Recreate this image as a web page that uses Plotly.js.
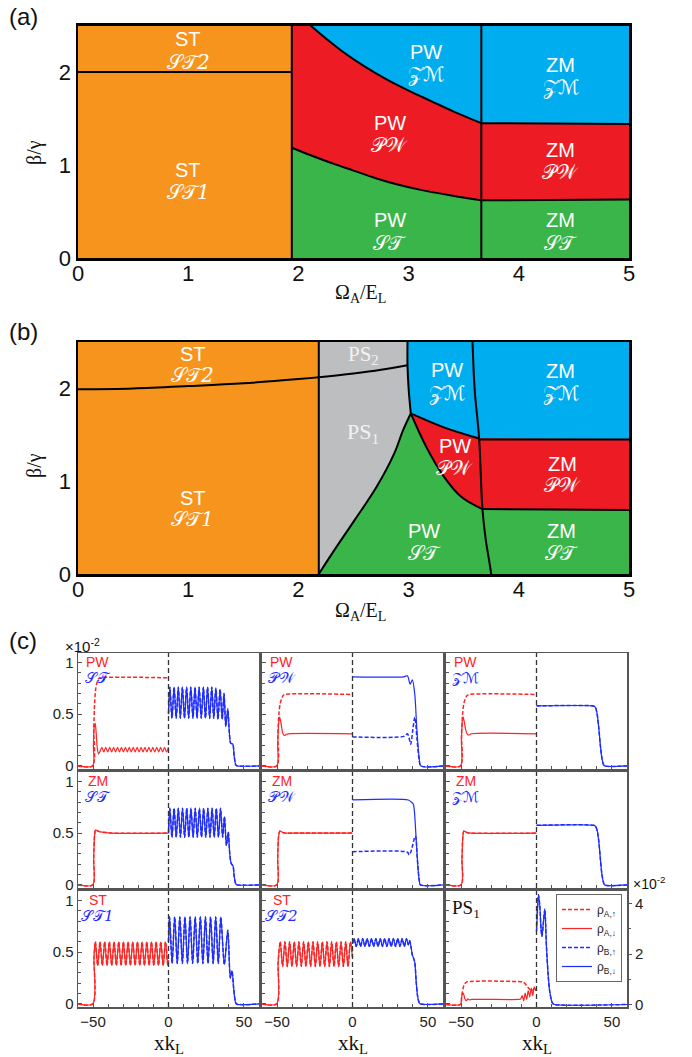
<!DOCTYPE html>
<html><head><meta charset="utf-8">
<script src="https://cdn.plot.ly/plotly-3.0.1.min.js"></script>
<style>html,body{margin:0;padding:0;background:#fff}#g{width:692px;height:1057px}</style>
</head><body><div id="g"></div>
<script>
// ================= DATA =================
// ---- Panel (a): phase boundaries (Omega_A/E_L , beta/gamma) ----
const a_xTicks = [0,1,2,3,4,5];
const a_yTicks = [0,1,2];
const a_stSplitY = 2.0;
const a_stEdgeX = 1.94;
const a_zmEdgeX = 3.66;
const a_upperX = [2.11,2.25,2.4,2.6,2.8,3.0,3.2,3.4,3.66];
const a_upperY = [2.5,2.36,2.22,2.06,1.92,1.80,1.69,1.58,1.45];
const a_lowerX = [1.94,2.1,2.31,2.5,2.71,2.9,3.12,3.4,3.66];
const a_lowerY = [1.185,1.11,1.017,0.94,0.855,0.79,0.73,0.67,0.62];
const a_rightX = [3.66,5];
const a_rightUpperY = [1.45,1.44];
const a_rightLowerY = [0.62,0.63];

// ---- Panel (b) ----
const b_stX = [0,0.5,1.0,1.5,2.0,2.185,2.5,2.75,2.99];
const b_stY = [1.99,2.0,2.025,2.055,2.10,2.12,2.16,2.2,2.25];
const b_stEdgeX = 2.185;
const b_grayGreenX = [2.185,2.35,2.51,2.71,2.87,2.95,3.02];
const b_grayGreenY = [0,0.30,0.58,0.94,1.30,1.55,1.73];
const b_grayBlueX = [2.99,2.99,3.0,3.02];
const b_grayBlueY = [2.5,2.25,2.0,1.73];
const b_blueRedX = [3.02,3.32,3.64];
const b_blueRedY = [1.73,1.58,1.46];
const b_redGreenX = [3.02,3.16,3.32,3.48,3.67];
const b_redGreenY = [1.73,1.37,1.05,0.83,0.70];
const b_vertX = [3.58,3.60,3.64,3.67,3.70,3.73,3.75];
const b_vertY = [2.5,1.98,1.46,0.70,0.37,0.15,0];
const b_rightUpperX = [3.64,5], b_rightUpperY = [1.45,1.45];
const b_rightLowerX = [3.67,5], b_rightLowerY = [0.70,0.69];

// ---- Panel (c): densities (units of 1e-2) ----
// c1: PW / ST
const c1_AupX = [-60,-50.3,-49.6,-49,-48.3,-47.5,-46.5,-45.5,0];
const c1_AupY = [0,0,0.35,0.6,0.74,0.8,0.84,0.85,0.85];
const c1_AdnX = [-60,-50.3,-49.8,-49.2,-48.6,-48,-47.2,-46.4,-45.4,-44.2,-42.9,-41.6,-40.3,-39.0,-37.7,-36.4,-35.1,-33.8,-32.5,-31.2,-29.9,-28.6,-27.3,-26.0,-24.7,-23.4,-22.1,-20.8,-19.5,-18.2,-16.9,-15.6,-14.3,-13.0,-11.7,-10.4,-9.1,-7.8,-6.5,-5.2,-3.9,-2.6,-1.3,0];
const c1_AdnY = [0,0,0.2,0.38,0.41,0.33,0.17,0.115,0.14,0.18,0.135,0.18,0.135,0.18,0.135,0.18,0.135,0.18,0.135,0.18,0.135,0.18,0.135,0.18,0.135,0.18,0.135,0.18,0.135,0.18,0.135,0.18,0.135,0.18,0.135,0.18,0.135,0.18,0.135,0.18,0.135,0.18,0.135,0.18];
const c1_BX = [0,0.9,2.3,3.7,5.1,6.5,7.8,9.2,10.6,12.0,13.4,14.8,16.2,17.6,18.9,20.3,21.7,23.1,24.5,25.9,27.3,28.7,30.0,31.4,32.8,34.2,35.6,36.8,38.0,39.3,40.3,41.2,42.6,43.5,44.6,45.5,60];
const c1_BY = [0.5,0.76,0.46,0.76,0.46,0.76,0.46,0.76,0.46,0.76,0.46,0.76,0.46,0.76,0.46,0.76,0.46,0.76,0.46,0.76,0.46,0.76,0.46,0.75,0.45,0.74,0.45,0.7,0.38,0.55,0.33,0.22,0.21,0.1,0.01,0,0];
// c2: PW / PW
const c2_AupX = [-60,-50.2,-49.5,-48.8,-48,-47,-46,-45,0];
const c2_AupY = [0,0,0.3,0.5,0.6,0.65,0.68,0.69,0.69];
const c2_AdnX = [-60,-50.2,-49.6,-49,-48.3,-47.5,-46.6,-45.7,-44.8,-43.8,-42.5,0];
const c2_AdnY = [0,0,0.2,0.4,0.47,0.42,0.34,0.3,0.295,0.305,0.31,0.31];
const c2_BupX = [0,34,36.4,37.5,38.6,40,41.3,42,42.8,44.2,45.3,60];
const c2_BupY = [0.28,0.285,0.31,0.27,0.21,0.35,0.47,0.4,0.25,0.06,0,0];
const c2_BdnX = [0,34,36.4,38.2,39.7,41.3,42.6,44.2,45.3,60];
const c2_BdnY = [0.86,0.86,0.87,0.79,0.83,0.69,0.37,0.08,0,0];
// c3: PW / ZM
const c3_AupX = [-60,-50.4,-49.7,-49,-48.2,-47.2,-46,-44.5,0];
const c3_AupY = [0,0,0.3,0.5,0.6,0.65,0.68,0.69,0.69];
const c3_AdnX = [-60,-50.4,-49.8,-49.2,-48.6,-47.8,-46.8,-45.6,-44.5,-43.2,0];
const c3_AdnY = [0,0,0.25,0.43,0.47,0.42,0.34,0.3,0.3,0.31,0.31];
const c3_BX = [0,37,38.2,39.2,40.2,41.2,42.2,43.2,44.2,45.2,60];
const c3_BY = [0.58,0.58,0.575,0.56,0.5,0.38,0.22,0.09,0.02,0,0];
// c4: ZM / ST
const c4_AX = [-60,-50.2,-49.6,-49,-48.4,-47.5,-46,-44,-41,-38,0];
const c4_AY = [0,0,0.25,0.48,0.53,0.525,0.515,0.51,0.505,0.5,0.5];
const c4_BX = [0,0.9,2.3,3.7,5.1,6.5,7.9,9.3,10.7,12.1,13.5,14.9,16.3,17.7,19.1,20.5,21.9,23.3,24.7,26.1,27.5,28.9,30.3,31.7,33.1,34.5,35.9,37.1,38.4,39.6,40.6,41.5,42.8,43.6,44.6,45.5,60];
const c4_BY = [0.5,0.74,0.46,0.74,0.46,0.74,0.46,0.74,0.46,0.74,0.46,0.74,0.46,0.74,0.46,0.74,0.46,0.74,0.46,0.74,0.46,0.74,0.46,0.74,0.46,0.74,0.46,0.66,0.38,0.51,0.3,0.21,0.18,0.08,0.01,0,0];
// c5: ZM / PW
const c5_AX = [-60,-50.2,-49.6,-49,-48.2,-47.3,-46,-44,-40,0];
const c5_AY = [0,0,0.25,0.47,0.52,0.515,0.505,0.5,0.5,0.5];
const c5_BupX = [0,36.5,37.5,38.5,39.5,40.5,41.5,42,42.7,43.5,44.3,45,60];
const c5_BupY = [0.32,0.315,0.29,0.31,0.36,0.42,0.47,0.46,0.32,0.15,0.04,0,0];
const c5_BdnX = [0,37,39,40.3,41.1,41.9,42.7,43.5,44.3,45,60];
const c5_BdnY = [0.82,0.82,0.8,0.78,0.7,0.52,0.32,0.15,0.04,0,0];
// c6: ZM / ZM
const c6_AX = [-60,-50,-49.4,-48.8,-48.2,-47.3,-46,-44,0];
const c6_AY = [0,0,0.25,0.47,0.52,0.515,0.505,0.5,0.5];
const c6_BX = [0,38,39.2,40.3,41.3,42.3,43.3,44.3,45.2,60];
const c6_BY = [0.575,0.575,0.565,0.52,0.42,0.26,0.11,0.03,0,0];
// c7: ST / ST1
const c7_AX = [-60,-50.2,-49.4,-48.5,-46.95,-45.4,-43.85,-42.3,-40.75,-39.2,-37.65,-36.1,-34.55,-33.0,-31.45,-29.9,-28.35,-26.8,-25.25,-23.7,-22.15,-20.6,-19.05,-17.5,-15.95,-14.4,-12.85,-11.3,-9.75,-8.2,-6.65,-5.1,-3.55,-2.0,-0.45,0];
const c7_AY = [0,0,0.45,0.6,0.37,0.6,0.37,0.6,0.37,0.6,0.37,0.6,0.37,0.6,0.37,0.6,0.37,0.6,0.37,0.6,0.37,0.6,0.37,0.6,0.37,0.6,0.37,0.6,0.37,0.6,0.37,0.6,0.37,0.6,0.37,0.42];
const c7_BX = [0,0.7,2.4,4.1,5.8,7.5,9.2,10.9,12.6,14.3,16.0,17.7,19.4,21.1,22.8,24.5,26.2,27.9,29.6,31.3,33.0,34.7,37.0,39.3,41.0,42.1,43.2,44.2,45,60];
const c7_BY = [0.6,0.84,0.39,0.84,0.39,0.84,0.39,0.84,0.39,0.84,0.39,0.84,0.39,0.84,0.39,0.84,0.39,0.84,0.39,0.84,0.39,0.84,0.38,0.71,0.25,0.32,0.15,0.03,0,0];
// c8: ST / ST2
const c8_AX = [-60,-50.3,-49.3,-47.9,-46.35,-44.8,-43.25,-41.7,-40.15,-38.6,-37.05,-35.5,-33.95,-32.4,-30.85,-29.3,-27.75,-26.2,-24.65,-23.1,-21.55,-20.0,-18.45,-16.9,-15.35,-13.8,-12.25,-10.7,-9.15,-7.6,-6.05,-4.5,-2.95,-1.4,0];
const c8_AY = [0,0,0.4,0.6,0.36,0.6,0.36,0.6,0.36,0.6,0.36,0.6,0.36,0.6,0.36,0.6,0.36,0.6,0.36,0.6,0.36,0.6,0.36,0.6,0.36,0.6,0.36,0.6,0.36,0.6,0.36,0.6,0.36,0.6,0.45];
const c8_BX = [0,1.0,2.45,3.9,5.35,6.8,8.25,9.7,11.15,12.6,14.05,15.5,16.95,18.4,19.85,21.3,22.75,24.2,25.65,27.1,28.55,30.0,31.45,32.9,34.35,35.8,37.0,37.9,38.8,39.7,40.5,41.3,42.2,43.1,44.0,44.9,60];
const c8_BY = [0.58,0.63,0.555,0.63,0.555,0.63,0.555,0.63,0.555,0.63,0.555,0.63,0.555,0.63,0.555,0.63,0.555,0.63,0.555,0.63,0.555,0.63,0.555,0.63,0.555,0.63,0.57,0.61,0.55,0.47,0.44,0.4,0.22,0.08,0.02,0,0];
// c9: PS1 (right axis)
const c9_AupX = [-60,-50.4,-49.6,-48.8,-48,-47,-46,-10,-8.5,-7.3,-6,-4.8,-3.5,-2.3,-1,0];
const c9_AupY = [0,0,0.35,0.6,0.78,0.86,0.9,0.9,0.88,0.8,0.7,0.62,0.55,0.58,0.65,0.7];
const c9_AdnX = [-60,-50.4,-49.8,-49.2,-48.5,-47.6,-46.6,-45.5,-44.5,-43,-12,-10.5,-9.5,-8.5,-7.5,-6.5,-5.5,-4.5,-3.5,-2.5,-1.5,-0.5,0];
const c9_AdnY = [0,0,0.2,0.4,0.45,0.25,0.15,0.22,0.18,0.2,0.2,0.22,0.35,0.15,0.45,0.2,0.55,0.3,0.65,0.35,0.7,0.55,0.6];
const c9_BX = [0,0.5,1.3,2.2,3.0,3.6,4.5,5.5,6.6,7.7,8.8,10.6,12,60];
const c9_BY = [2.9,3.6,4.35,3.9,3.0,2.7,3.2,3.78,2.3,1.2,0.5,0.05,0,0];

const c_xTicks = [-50,0,50];
const c_stateTop = ['PW','PW','PW','ZM','ZM','ZM','ST','ST',''];
const c_stateBot = ['𝒮𝒯','𝒫𝒲','𝒵ℳ','𝒮𝒯','𝒫𝒲','𝒵ℳ','𝒮𝒯<i>1</i>','𝒮𝒯<i>2</i>',''];
const legendNames = ['ρ<sub>A,↑</sub>','ρ<sub>A,↓</sub>','ρ<sub>B,↑</sub>','ρ<sub>B,↓</sub>'];

// ================= BUILD =================
const W = 692, H = 1057;
const COL = {orange:'#F7941D', red:'#ED1C24', blue:'#00AEEF', green:'#39B54A', gray:'#BCBEC0'};
const RED = '#ff2424', BLUE = '#1f2cff';
const SANS = 'Liberation Sans, Arial, sans-serif';
const NARROW = 'Liberation Sans Narrow, Liberation Sans, Arial, sans-serif';
const SERIF = 'Liberation Serif, Times New Roman, serif';
const SCRIPT = 'DejaVu Serif, DejaVu Sans, serif';
const px = v => v / W, py = v => 1 - v / H;

const traces = [];
function poly(xa, ya, xs, ys, color) {
  traces.push({type:'scatter', mode:'lines', x:xs, y:ys, xaxis:xa, yaxis:ya, fill:'toself',
    fillcolor:color, line:{width:0.5, color:color}, hoverinfo:'skip', showlegend:false});
}
function bline(xa, ya, xs, ys, spline) {
  traces.push({type:'scatter', mode:'lines', x:xs, y:ys, xaxis:xa, yaxis:ya,
    line:{color:'#000', width:2, shape: spline ? 'spline' : 'linear'}, hoverinfo:'skip', showlegend:false});
}
const rev = a => a.slice().reverse();
const yMax = 2.5, xMax = 5;

// ----- (a) -----
poly('x','y',[0,a_stEdgeX,a_stEdgeX,0],[0,0,yMax,yMax],COL.orange);
poly('x','y',[a_stEdgeX,xMax,xMax,a_stEdgeX],[0,0,yMax,yMax],COL.red);
poly('x','y',a_upperX.concat([a_rightX[1],xMax]),a_upperY.concat([a_rightUpperY[1],yMax]),COL.blue);
poly('x','y',[a_stEdgeX].concat(a_lowerX,[a_rightX[1],xMax]),[0].concat(a_lowerY,[a_rightLowerY[1],0]),COL.green);
bline('x','y',[0,a_stEdgeX],[a_stSplitY,a_stSplitY]);
bline('x','y',[a_stEdgeX,a_stEdgeX],[0,yMax]);
bline('x','y',a_upperX,a_upperY,true);
bline('x','y',a_lowerX,a_lowerY,true);
bline('x','y',[a_zmEdgeX,a_zmEdgeX],[0,yMax]);
bline('x','y',a_rightX,a_rightUpperY);
bline('x','y',a_rightX,a_rightLowerY);

// ----- (b) -----
poly('x2','y2',[0,b_stEdgeX,b_stEdgeX,0],[0,0,yMax,yMax],COL.orange);
poly('x2','y2',[b_stEdgeX,xMax,xMax,b_stEdgeX],[0,0,yMax,yMax],COL.green);
poly('x2','y2',b_grayGreenX.concat(rev(b_grayBlueX),[b_stEdgeX]),b_grayGreenY.concat(rev(b_grayBlueY),[yMax]),COL.gray);
poly('x2','y2',b_grayBlueX.concat(b_blueRedX,[xMax,xMax]),b_grayBlueY.concat(b_blueRedY,[b_rightUpperY[1],yMax]),COL.blue);
poly('x2','y2',b_blueRedX.concat([xMax,xMax],rev(b_redGreenX)),b_blueRedY.concat([b_rightUpperY[1],b_rightLowerY[1]],rev(b_redGreenY)),COL.red);
poly('x2','y2',[b_vertX[2],xMax,xMax,b_vertX[3]],[b_rightUpperY[0],b_rightUpperY[1],b_rightLowerY[1],b_rightLowerY[0]],COL.red);
bline('x2','y2',b_stX,b_stY,true);
bline('x2','y2',[b_stEdgeX,b_stEdgeX],[0,yMax]);
bline('x2','y2',b_grayGreenX,b_grayGreenY,true);
bline('x2','y2',b_grayBlueX,b_grayBlueY,true);
bline('x2','y2',b_blueRedX,b_blueRedY,true);
bline('x2','y2',b_redGreenX,b_redGreenY,true);
bline('x2','y2',b_vertX,b_vertY,true);
bline('x2','y2',b_rightUpperX,b_rightUpperY);
bline('x2','y2',b_rightLowerX,b_rightLowerY);

// ----- (c) -----
function curve(p, xs, ys, color, dash, yax, legIdx) {
  const n = p + 2;
  const t = {type:'scatter', mode:'lines', x:xs, y:ys, xaxis:'x'+n, yaxis: yax || ('y'+n),
    line:{color:color, width: dash ? 1.5 : 1.2, dash: dash ? '4px,2px' : 'solid', shape:'spline', smoothing:0.8},
    hoverinfo:'skip', showlegend:false};
  if (legIdx !== undefined) { t.showlegend = true; t.name = legendNames[legIdx]; t.legendrank = legIdx + 1; }
  traces.push(t);
}
curve(1,c1_AdnX,c1_AdnY,RED,false); curve(1,c1_AupX,c1_AupY,RED,true);
curve(1,c1_BX,c1_BY,BLUE,false); curve(1,c1_BX,c1_BY,BLUE,true);
curve(2,c2_AdnX,c2_AdnY,RED,false); curve(2,c2_AupX,c2_AupY,RED,true);
curve(2,c2_BdnX,c2_BdnY,BLUE,false); curve(2,c2_BupX,c2_BupY,BLUE,true);
curve(3,c3_AdnX,c3_AdnY,RED,false); curve(3,c3_AupX,c3_AupY,RED,true);
curve(3,c3_BX,c3_BY,BLUE,false); curve(3,c3_BX,c3_BY,BLUE,true);
curve(4,c4_AX,c4_AY,RED,false); curve(4,c4_AX,c4_AY,RED,true);
curve(4,c4_BX,c4_BY,BLUE,false); curve(4,c4_BX,c4_BY,BLUE,true);
curve(5,c5_AX,c5_AY,RED,false); curve(5,c5_AX,c5_AY,RED,true);
curve(5,c5_BdnX,c5_BdnY,BLUE,false); curve(5,c5_BupX,c5_BupY,BLUE,true);
curve(6,c6_AX,c6_AY,RED,false); curve(6,c6_AX,c6_AY,RED,true);
curve(6,c6_BX,c6_BY,BLUE,false); curve(6,c6_BX,c6_BY,BLUE,true);
curve(7,c7_AX,c7_AY,RED,false); curve(7,c7_AX,c7_AY,RED,true);
curve(7,c7_BX,c7_BY,BLUE,false); curve(7,c7_BX,c7_BY,BLUE,true);
curve(8,c8_AX,c8_AY,RED,false); curve(8,c8_AX,c8_AY,RED,true);
curve(8,c8_BX,c8_BY,BLUE,false); curve(8,c8_BX,c8_BY,BLUE,true);
curve(9,c9_AdnX,c9_AdnY,RED,false,'y12',1);
curve(9,c9_AupX,c9_AupY,RED,true,'y12',0);
curve(9,c9_BX,c9_BY,BLUE,false,'y12',3);
curve(9,c9_BX,c9_BY,BLUE,true,'y12',2);

// ----- layout -----
const layout = {
  width:W, height:H, margin:{l:0,r:0,t:0,b:0},
  paper_bgcolor:'#fff', plot_bgcolor:'#fff', showlegend:true,
  font:{family:SANS, color:'#111'},
  legend:{x:px(556), y:py(894), xanchor:'left', yanchor:'top', bgcolor:'#fff',
    bordercolor:'#666', borderwidth:1, font:{family:SANS, size:12, color:'#222'}, tracegroupgap:0,
    traceorder:'normal'},
  annotations:[], shapes:[]
};
function phaseAxes(xk, yk, top, bot, anchorX, anchorY) {
  layout[xk] = {domain:[px(78),px(629)], anchor:anchorY, range:[0,xMax], tickvals:a_xTicks,
    showline:true, mirror:true, linewidth:2.5, linecolor:'#000', ticks:'', showgrid:false, zeroline:false,
    tickfont:{family:NARROW, size:22, color:'#111'}, ticklabelstandoff:-6, fixedrange:true};
  layout[yk] = {domain:[py(bot),py(top)], anchor:anchorX, range:[0,yMax], tickvals:a_yTicks,
    showline:true, mirror:true, linewidth:2.5, linecolor:'#000', ticks:'', showgrid:false, zeroline:false,
    tickfont:{family:NARROW, size:22, color:'#111'}, ticklabelstandoff:0, fixedrange:true};
}
phaseAxes('xaxis','yaxis',25.5,258,'x','y');
phaseAxes('xaxis2','yaxis2',342,574,'x2','y2');

const colsPx = [[78,259],[262,443],[446,627]];
const rowsPx = [[653,769],[772,888],[891,1007]];
for (let p = 1; p <= 9; p++) {
  const n = p + 2, r = Math.floor((p-1)/3), c = (p-1)%3;
  layout['xaxis'+n] = {domain:[px(colsPx[c][0]),px(colsPx[c][1])], anchor:'y'+n, range:[-60,60],
    tickvals:c_xTicks, showline:true, mirror:true, linecolor:'#555', linewidth:1.5,
    ticks:'inside', ticklen:4, tickcolor:'#555',
    minor:{ticks:'inside', tick0:0, dtick:10, ticklen:3, tickcolor:'#555', showgrid:false},
    showgrid:false, zeroline:false, showticklabels: r === 2,
    tickfont:{family:SANS, size:15, color:'#222'}, fixedrange:true};
  layout['yaxis'+n] = {domain:[py(rowsPx[r][1]),py(rowsPx[r][0])], anchor:'x'+n, range:[-0.03,1.09],
    tick0:0, dtick:0.5, showline:true, mirror:true, linecolor:'#555', linewidth:1.5,
    ticks:'inside', ticklen:4, tickcolor:'#555',
    minor:{ticks:'inside', tick0:0, dtick:0.1, ticklen:3, tickcolor:'#555', showgrid:false},
    showgrid:false, zeroline:false, showticklabels: c === 0,
    tickfont:{family:SANS, size:15, color:'#222'}, fixedrange:true};
  layout.shapes.push({type:'line', xref:'x'+n, yref:'y'+n+' domain', x0:0, x1:0, y0:0, y1:1,
    line:{color:'#333', width:1.3, dash:'5px,3px'}});
  if (c_stateTop[p-1]) {
    layout.annotations.push({xref:'x'+n, yref:'y'+n, x:-47, y:1.0, text:c_stateTop[p-1], showarrow:false,
      xanchor:'center', yanchor:'middle', font:{family:SANS, size:14, color:RED}});
    layout.annotations.push({xref:'x'+n, yref:'y'+n, x:-47, y:0.845, text:c_stateBot[p-1], showarrow:false,
      xanchor:'center', yanchor:'middle', font:{family:SCRIPT, size:15, color:BLUE}});
  }
}
layout.yaxis12 = {overlaying:'y11', side:'right', anchor:'x11', range:[-0.1,4.5], tick0:0, dtick:2,
  ticks:'outside', ticklen:4, tickcolor:'#555',
  minor:{ticks:'outside', tick0:0, dtick:1, ticklen:3, tickcolor:'#555', showgrid:false},
  showline:false, showgrid:false, zeroline:false, tickfont:{family:SANS, size:15, color:'#222'}, fixedrange:true};
layout.annotations.push({xref:'x11', yref:'y11', x:-47, y:0.92, text:'PS<sub>1</sub>', showarrow:false,
  xanchor:'center', yanchor:'middle', font:{family:SERIF, size:19, color:'#111'}});

// region labels
function region(xa, ya, x, y1, y2, t1, t2) {
  layout.annotations.push({xref:xa, yref:ya, x:x, y:y1, text:t1, showarrow:false, xanchor:'center', yanchor:'middle',
    font:{family:SANS, size:20, color:'#fff'}});
  if (t2) layout.annotations.push({xref:xa, yref:ya, x:x, y:y2, text:t2, showarrow:false, xanchor:'center', yanchor:'middle',
    font:{family:SCRIPT, size:20, color:'#fff'}});
}
region('x','y',1.0,2.35,2.11,'ST','𝒮𝒯<i>2</i>');
region('x','y',1.0,0.945,0.71,'ST','𝒮𝒯<i>1</i>');
region('x','y',3.16,2.21,1.98,'PW','𝒵ℳ');
region('x','y',4.38,2.08,1.84,'ZM','𝒵ℳ');
region('x','y',2.83,1.45,1.21,'PW','𝒫𝒲');
region('x','y',4.38,1.16,0.93,'ZM','𝒫𝒲');
region('x','y',2.83,0.41,0.16,'PW','𝒮𝒯');
region('x','y',4.38,0.41,0.16,'ZM','𝒮𝒯');

region('x2','y2',1.04,2.37,2.14,'ST','𝒮𝒯<i>2</i>');
region('x2','y2',1.04,0.82,0.59,'ST','𝒮𝒯<i>1</i>');
region('x2','y2',3.35,2.20,1.95,'PW','𝒵ℳ');
region('x2','y2',4.38,2.19,1.95,'ZM','𝒵ℳ');
region('x2','y2',3.42,1.38,1.14,'PW','𝒫𝒲');
region('x2','y2',4.40,1.19,0.96,'ZM','𝒫𝒲');
region('x2','y2',3.14,0.46,0.23,'PW','𝒮𝒯');
region('x2','y2',4.39,0.46,0.23,'ZM','𝒮𝒯');
layout.annotations.push({xref:'x2', yref:'y2', x:2.59, y:2.36, text:'PS<sub>2</sub>', showarrow:false,
  xanchor:'center', yanchor:'middle', font:{family:SERIF, size:21, color:'#f2f2f2'}});
layout.annotations.push({xref:'x2', yref:'y2', x:2.59, y:1.52, text:'PS<sub>1</sub>', showarrow:false,
  xanchor:'center', yanchor:'middle', font:{family:SERIF, size:22, color:'#f2f2f2'}});

// titles & panel letters
function pa(x, y, text, size, family, extra) {
  layout.annotations.push(Object.assign({xref:'paper', yref:'paper', x:px(x), y:py(y), text:text,
    showarrow:false, xanchor:'center', yanchor:'middle', font:{family:family, size:size, color:'#111'}}, extra || {}));
}
pa(7, 17, '(a)', 24, SANS, {xanchor:'left'});
pa(7, 331, '(b)', 24, SANS, {xanchor:'left'});
pa(7, 640, '(c)', 24, SANS, {xanchor:'left'});
pa(360, 293, 'Ω<sub>A</sub>/E<sub>L</sub>', 20, SERIF);
pa(360, 611, 'Ω<sub>A</sub>/E<sub>L</sub>', 20, SERIF);
pa(34, 153, 'β/γ', 20, SERIF, {textangle:-90});
pa(34, 466, 'β/γ', 20, SERIF, {textangle:-90});
pa(169, 1044, 'xk<sub>L</sub>', 21, SERIF);
pa(353, 1044, 'xk<sub>L</sub>', 21, SERIF);
pa(537, 1044, 'xk<sub>L</sub>', 21, SERIF);
pa(63, 645, '×10<sup>-2</sup>', 15, SANS, {xanchor:'left'});
pa(631, 883, '×10<sup>-2</sup>', 14, SANS, {xanchor:'left'});

Plotly.newPlot('g', traces, layout, {staticPlot:true, displayModeBar:false});
</script></body></html>
